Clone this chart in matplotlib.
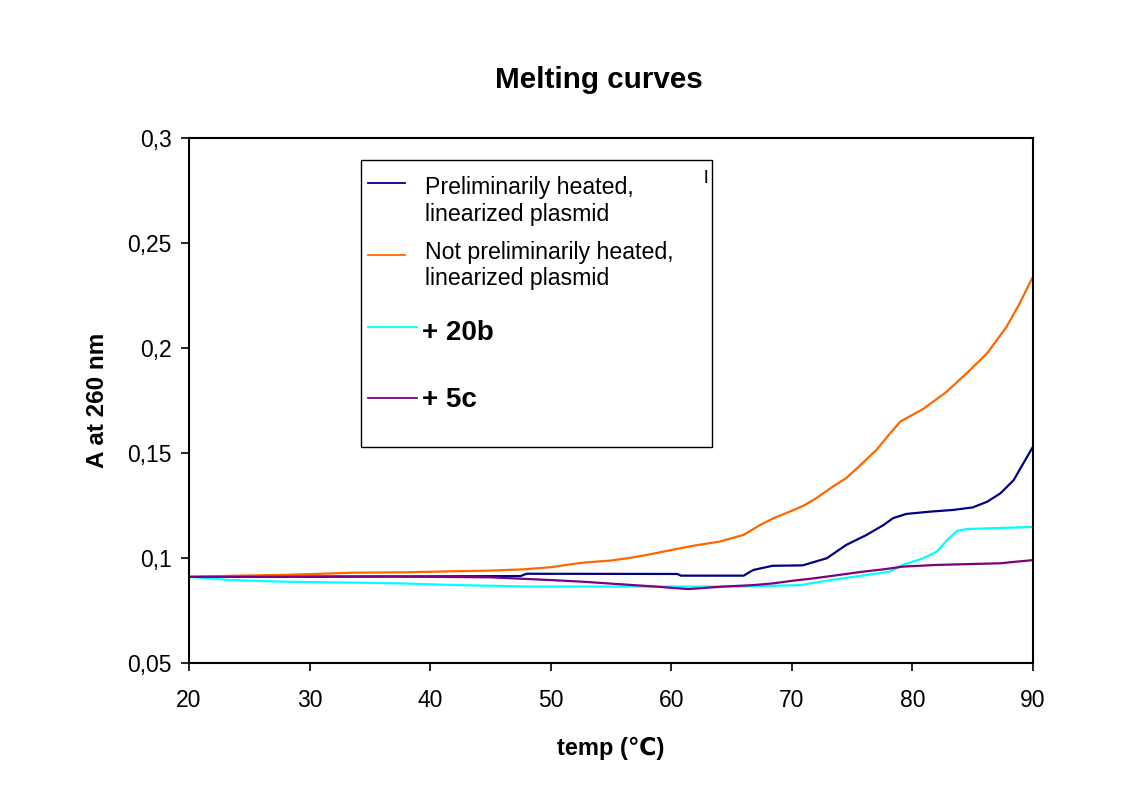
import matplotlib
matplotlib.use("Agg")
import matplotlib.pyplot as plt
from matplotlib.lines import Line2D
from matplotlib.patches import Rectangle

plt.rcParams['font.family'] = ['Liberation Sans', 'DejaVu Sans']

# Melting curve readings (temperature in C, absorbance at 260 nm)
t_heated = [20, 36.5, 47.5, 48, 60.5, 60.8, 66, 66.8, 68.4, 70.9, 72.9, 74.5, 76.2,
            77.6, 78.4, 79.5, 81.5, 83.4, 85, 86.2, 87.3, 88.4, 89.2, 90]
a_heated = [0.091, 0.0912, 0.0914, 0.0925, 0.0924, 0.0916, 0.0916, 0.0943, 0.0963,
            0.0965, 0.0999, 0.1062, 0.111, 0.1157, 0.119, 0.121, 0.1221, 0.1229,
            0.1241, 0.1268, 0.1308, 0.1371, 0.1451, 0.153]

t_not_heated = [20, 23.4, 28, 31, 33.6, 38, 42, 45, 47.7, 50, 51.3, 52.7, 55, 56.5, 58,
                60, 62, 64, 66, 67.3, 68.5, 70, 71, 72, 73.4, 74.5, 75.4, 77, 78.1, 79,
                80.9, 82.8, 84.5, 86.2, 87.8, 88.9, 90]
a_not_heated = [0.091, 0.0915, 0.092, 0.0925, 0.093, 0.0932, 0.0937, 0.094, 0.0946,
                0.0956, 0.0967, 0.0978, 0.0988, 0.1, 0.1015, 0.1038, 0.106, 0.1078,
                0.111, 0.1155, 0.119, 0.1225, 0.125, 0.1284, 0.134, 0.138, 0.1427,
                0.1514, 0.159, 0.165, 0.171, 0.179, 0.188, 0.1975, 0.21, 0.2213, 0.234]

t_20b = [20, 23.4, 28, 37, 42.3, 48.3, 66, 70.7, 73.2, 76.2, 78.1, 79.2, 80.9, 82,
         82.9, 83.7, 84.5, 90]
a_20b = [0.091, 0.0895, 0.0887, 0.088, 0.0871, 0.0864, 0.0864, 0.0871, 0.0895, 0.0919,
         0.0935, 0.0967, 0.0999, 0.103, 0.1086, 0.1129, 0.1138, 0.1148]

t_5c = [20, 36.4, 45, 50, 52.7, 55, 58.7, 61.4, 64.3, 66.8, 68.4, 70.1, 71.8, 74.5,
        75.9, 77.6, 79.2, 82, 87.3, 88.7, 90]
a_5c = [0.091, 0.0912, 0.0908, 0.0895, 0.0887, 0.0878, 0.0864, 0.0852, 0.0864, 0.0871,
        0.0879, 0.0892, 0.0903, 0.0924, 0.0935, 0.0946, 0.0959, 0.0967, 0.0975, 0.0983,
        0.099]

x_ticks = [20, 30, 40, 50, 60, 70, 80, 90]
y_ticks = [0.05, 0.1, 0.15, 0.2, 0.25, 0.3]
y_labels = ['0,05', '0,1', '0,15', '0,2', '0,25', '0,3']

c_heated = '#000080'
c_not = '#FF6600'
c_20b = '#00FFFF'
c_5c = '#800080'

fig = plt.figure(figsize=(11.47, 7.85), dpi=100)
ax = fig.add_axes([0.1648, 0.1554, 0.7358, 0.6688])

ax.plot(t_heated, a_heated, color=c_heated, lw=1.6)
ax.plot(t_not_heated, a_not_heated, color=c_not, lw=1.6)
ax.plot(t_20b, a_20b, color=c_20b, lw=1.6)
ax.plot(t_5c, a_5c, color=c_5c, lw=1.6)

ax.set_xlim(20, 90)
ax.set_ylim(0.05, 0.3)
ax.set_xticks(x_ticks)
ax.set_yticks(y_ticks)
ax.set_yticklabels(y_labels)
ax.tick_params(direction='out', length=5.5, width=1.2, labelsize=16.5)
ax.tick_params(axis='x', pad=13)
ax.tick_params(axis='y', pad=7)
for s in ax.spines.values():
    s.set_linewidth(1.5)

ax.set_xlabel('temp (℃)', fontsize=17, fontweight='bold', labelpad=18)
ax.set_ylabel('A at 260 nm', fontsize=17.5, fontweight='bold', labelpad=13)
fig.text(0.522, 0.898, 'Melting curves', fontsize=21.3, fontweight='bold', ha='center', va='center')

# hand-made legend box
tr = ax.transAxes
ax.add_patch(Rectangle((0.2038, 0.4114), 0.4159, 0.5466, transform=tr, fill=False,
                       edgecolor='black', lw=1.0, zorder=5))
entries = [
    (c_heated, 0.9137, 0.2559, 'Preliminarily heated,\nlinearized plasmid', 'normal', 16.7, 0.880, 0.2796),
    (c_not, 0.777, 0.2559, 'Not preliminarily heated,\nlinearized plasmid', 'normal', 16.7, 0.757, 0.2796),
    (c_20b, 0.6406, 0.2701, '+ 20b', 'bold', 20, 0.6286, 0.2761),
    (c_5c, 0.504, 0.2701, '+ 5c', 'bold', 20, 0.501, 0.2761),
]
for col, yl, xe, label, fw, fs, yt, xt in entries:
    ax.add_line(Line2D([0.2121, xe], [yl, yl], color=col, lw=1.3, transform=tr, zorder=6))
    ax.text(xt, yt, label, transform=tr, fontsize=fs, fontweight=fw,
            va='center', ha='left', linespacing=1.2, zorder=6)
ax.text(0.612, 0.922, 'l', transform=tr, fontsize=14, va='center', ha='center', zorder=6)

fig.savefig('out.png', dpi=100)
